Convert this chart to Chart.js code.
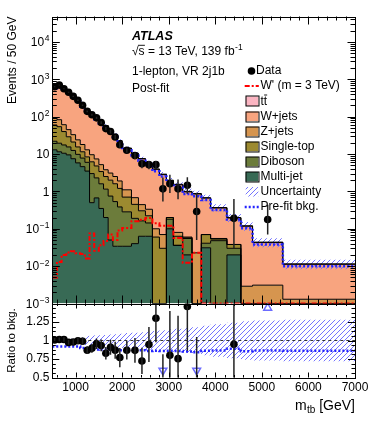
<!DOCTYPE html>
<html lang="en">
<head>
<meta charset="utf-8">
<title>m_tb post-fit, 1-lepton VR 2j1b</title>
<script src="https://cdn.jsdelivr.net/npm/chart.js@4.4.1/dist/chart.umd.min.js"></script>
<style>
  html, body { margin: 0; padding: 0; background: #ffffff; }
  #plot { position: relative; width: 374px; height: 421px; background: #ffffff; }
  #plot canvas { position: absolute; left: 0; top: 0; }
</style>
</head>
<body>
<div id="plot">
  <canvas id="mainChart" width="374" height="421"></canvas>
  <canvas id="ratioChart" width="374" height="421"></canvas>
</div>
<script>
// m_tb binning [GeV], variable width; contents are events / 50 GeV
const binEdges = [500, 600, 700, 800, 900, 1000, 1100, 1200, 1300, 1400, 1500, 1600, 1700, 1800, 1900, 2000,
  2200, 2350, 2500, 2650, 2800, 2950, 3100, 3300, 3500, 3700, 3900, 4250, 4550, 4800, 5450, 7000];

// post-fit background components (bottom of stack first)
const multijet = [13, 11.5, 10.5, 9.5, 7.5, 5.8, 4.6, 3.5, 0.5, 0.67, 0.35, 0.2, 0.05, 0.034, 0.034,
  0.034, 0.04, 0.063, 0.063, 0, 0, 0.1, 0.036, 0.02, 0, 0.031, 0, 0.02, 0, 0, 0];
const diboson = [9, 8, 7, 6, 5, 4, 3.2, 2.5, 2.5, 1.63, 1.25, 0.95, 0.7, 0.5, 0.35,
  0.25, 0.15, 0.1, 0.08, 0, 0, 0.08, 0, 0.035, 0, 0.01, 0.048, 0.01, 0, 0, 0];
const singleTop = [38, 34.5, 22.5, 13.5, 8.5, 5.7, 3.7, 2.4, 3.2, 2.5, 1.8, 1.35, 1.25, 1.07, 0.82,
  0.42, 0.26, 0.14, 0.08, 0.06, 0.03, 0.02, 0.027, 0.002, 0, 0.029, 0.005, 0.008, 0, 0, 0];
const zjets = [32, 29, 21, 16, 12, 8.5, 6.5, 4.6, 3.4, 2.6, 1.8, 1.3, 1.1, 0.9, 0.7,
  0.4, 0.23, 0.14, 0.11, 0.04, 0.04, 0, 0.017, 0.003, 0.0227, 0, 0.002, 0, 0.0029, 0.0031, 0.0013];
const wjets = [515, 586, 474, 403, 313, 244, 181, 142, 113, 87, 67.6, 52.5, 39.6, 29.5, 20.4,
  12.95, 9.52, 6.96, 5.02, 3.8, 2.75, 1.74, 1.425, 0.91, 0.832, 0.59, 0.304, 0.156, 0.114, 0.0396, 0.0099];
const ttbar = [19, 21, 17, 14, 11, 8, 6, 5, 3.8, 2.9, 2.2, 1.7, 1.3, 1.0, 0.7,
  0.45, 0.3, 0.2, 0.15, 0.1, 0.08, 0.06, 0.045, 0.03, 0.025, 0.02, 0.011, 0.006, 0.0035, 0.0013, 0.0003];

const prefitBkg = [576, 635, 508, 425, 328, 254, 184.5, 141, 111, 85.4, 66, 51, 38.7, 29, 20,
  12.6, 9.1, 6.6, 4.73, 3.44, 2.49, 1.72, 1.33, 0.85, 0.74, 0.585, 0.32, 0.178, 0.103, 0.038, 0.0099];
const bkgRelUnc = [0.025, 0.025, 0.025, 0.025, 0.025, 0.03, 0.04, 0.06, 0.065, 0.07, 0.07, 0.075, 0.08, 0.085, 0.09,
  0.1, 0.105, 0.11, 0.12, 0.13, 0.14, 0.15, 0.16, 0.17, 0.18, 0.2, 0.22, 0.24, 0.26, 0.27, 0.28];

const dataValues = [630, 700, 560, 450, 350, 275, 203, 139, 113, 93, 70, 48, 40, 28.7, 17.7,
  12.6, 9.1, 5.5, 5.2, 5.2, 1.17, 1.6, 1.17, 1.46, 0.29, null, null, 0.19, null, 0.177, null];
const dataErrLo = [18, 19, 17, 15, 13, 12, 10, 8.3, 7.5, 6.8, 5.9, 4.9, 4.5, 3.8, 3.0,
  1.8, 1.75, 1.35, 1.3, 1.3, 0.63, 0.7, 0.55, 0.6, 0.24, null, null, 0.16, null, 0.107, null];
const dataErrHi = [18, 19, 17, 15, 13, 12, 10, 8.3, 7.5, 6.8, 5.9, 4.9, 4.5, 3.8, 3.0,
  1.8, 1.75, 1.35, 1.3, 1.3, 1.19, 1.2, 0.9, 0.95, 0.63, null, null, 0.44, null, 0.26, null];

const wprimeSignal = [0.005, 0.013, 0.02, 0.023, 0.025, 0.022, 0.021, 0.016, 0.075, 0.026, 0.036, 0.047, 0.07, 0.05, 0.09,
  0.105, 0.16, 0.175, 0.195, 0.14, 0.12, 0.12, 0.057, 0.0123, 0.0227, 0, 0, 0, 0, 0, 0];

const xMajorTicks = [1000, 2000, 3000, 4000, 5000, 6000, 7000];
const yDecadeTicks = [1e-3, 1e-2, 1e-1, 1, 10, 100, 1000, 10000];
const ratioTicks = [0.5, 0.75, 1, 1.25];

const xMin = 500, xMax = 7000;
const yMin = 1e-3, yMax = 4.8e4;
const ratioMin = 0.5, ratioMax = 1.5;

const FONT = '"Liberation Sans", Arial, Helvetica, sans-serif';
const frame = { left: 52.3, right: 355, top: 16.5, split: 303.5, bottom: 377.5 };

const layers = [
  { label: 'Multi-jet', values: multijet, color: '#386a55' },
  { label: 'Diboson', values: diboson, color: '#6c7c3b' },
  { label: 'Single-top', values: singleTop, color: '#9c8a30' },
  { label: 'Z+jets', values: zjets, color: '#d6954f' },
  { label: 'W+jets', values: wjets, color: '#f8a47f' },
  { label: 'ttbar', values: ttbar, color: '#fbb5c2' },
];

const nBins = binEdges.length - 1;
const binCenters = binEdges.slice(0, -1).map((e, i) => (e + binEdges[i + 1]) / 2);

let running = new Array(nBins).fill(0);
const cumulative = layers.map(l => {
  running = running.map((r, i) => r + l.values[i]);
  return running.slice();
});
const totalBkg = running;

function stepData(values, floor) {
  const pts = values.map((v, i) => ({ x: binEdges[i], y: Math.max(v, floor) }));
  pts.push({ x: binEdges[nBins], y: Math.max(values[nBins - 1], floor) });
  return pts;
}

function hatchPattern(color) {
  const tile = document.createElement('canvas');
  tile.width = 5; tile.height = 5;
  const g = tile.getContext('2d');
  g.strokeStyle = color;
  g.lineWidth = 1;
  g.beginPath();
  g.moveTo(-1, 6); g.lineTo(6, -1);
  g.moveTo(-1, 1); g.lineTo(1, -1);
  g.moveTo(4, 6); g.lineTo(6, 4);
  g.stroke();
  return g.createPattern(tile, 'repeat');
}
const hatchFill = hatchPattern('#7474ff');
const BLUE = '#2424ff';

// data points carry their errors
const dataPoints = [];
dataValues.forEach((v, i) => {
  if (v !== null) dataPoints.push({ x: binCenters[i], y: v, lo: dataErrLo[i], hi: dataErrHi[i] });
});

function drawErrorBars(chart, points) {
  const { ctx, chartArea: a, scales: { x, y } } = chart;
  ctx.save();
  ctx.beginPath();
  ctx.rect(a.left, a.top, a.right - a.left, a.bottom - a.top);
  ctx.clip();
  ctx.strokeStyle = '#222';
  ctx.lineWidth = 1.5;
  ctx.beginPath();
  points.forEach(p => {
    const px = x.getPixelForValue(p.x);
    const lowV = p.y - p.lo;
    const top = y.getPixelForValue(p.y + p.hi);
    const bot = lowV > 0 ? y.getPixelForValue(lowV) : a.bottom + 50;
    ctx.moveTo(px, top);
    ctx.lineTo(px, bot);
  });
  ctx.stroke();
  ctx.restore();
}

function crisp(v) { return Math.round(v) + 0.5; }

function drawXTicks(ctx, a, x, majorLen, minorLen) {
  ctx.beginPath();
  for (let v = xMin + 100; v < xMax; v += 100) {
    if (v % 200 !== 0) continue;
    const major = v % 1000 === 0;
    const len = major ? majorLen : minorLen;
    const px = crisp(x.getPixelForValue(v));
    ctx.moveTo(px, a.bottom); ctx.lineTo(px, a.bottom - len);
    ctx.moveTo(px, a.top); ctx.lineTo(px, a.top + len);
  }
  ctx.stroke();
}

function drawFrame(ctx, a) {
  ctx.strokeRect(crisp(a.left), crisp(a.top), Math.round(a.right - a.left), Math.round(a.bottom - a.top));
}

// ---------- main panel ----------
const mainDecor = {
  id: 'mainDecor',
  afterDatasetsDraw(chart) {
    drawErrorBars(chart, dataPoints);
  },
  afterDraw(chart) {
    const { ctx, chartArea: a, scales: { x, y } } = chart;
    ctx.save();
    ctx.strokeStyle = '#000';
    ctx.lineWidth = 1;
    drawXTicks(ctx, a, x, 8, 4);
    ctx.beginPath();
    for (let n = -3; n <= 4; n++) {
      for (let k = 1; k <= 9; k++) {
        const v = k * Math.pow(10, n);
        if (v > yMax) break;
        const len = k === 1 ? 7.5 : 4.5;
        const py = crisp(y.getPixelForValue(v));
        ctx.moveTo(a.left, py); ctx.lineTo(a.left + len, py);
        ctx.moveTo(a.right, py); ctx.lineTo(a.right - len, py);
      }
    }
    ctx.stroke();
    drawFrame(ctx, a);

    // y tick labels with exponents
    ctx.fillStyle = '#000';
    ctx.textBaseline = 'alphabetic';
    ctx.textAlign = 'left';
    yDecadeTicks.forEach(v => {
      const py = y.getPixelForValue(v);
      const exp = Math.round(Math.log10(v));
      const base = exp === 0 ? '1' : '10';
      const sup = (exp === 0 || exp === 1) ? '' : String(exp).replace('-', '\u2212');
      ctx.font = `12px ${FONT}`;
      const wb = ctx.measureText(base).width;
      ctx.font = `8.5px ${FONT}`;
      const ws = sup ? ctx.measureText(sup).width + 0.6 : 0;
      const xr = a.left - 2.8;
      ctx.font = `12px ${FONT}`;
      ctx.fillText(base, xr - ws - wb, py + 4.3);
      if (sup) {
        ctx.font = `8.5px ${FONT}`;
        ctx.fillText(sup, xr - ws + 0.6, py - 0.6);
      }
    });

    // y title
    ctx.save();
    ctx.translate(16, a.top);
    ctx.rotate(-Math.PI / 2);
    ctx.font = `12px ${FONT}`;
    ctx.textAlign = 'right';
    ctx.fillText('Events / 50 GeV', 0, 0);
    ctx.restore();

    // ATLAS block
    const tx = 132;
    ctx.textAlign = 'left';
    ctx.font = `bold italic 12.5px ${FONT}`;
    ctx.fillText('ATLAS', tx, 40);
    ctx.font = `12px ${FONT}`;
    const line2 = '\u221As = 13 TeV, 139 fb';
    ctx.fillText(line2, tx, 55);
    const wRad = ctx.measureText('\u221A').width;
    const wRadS = ctx.measureText('\u221As').width;
    ctx.beginPath();
    ctx.lineWidth = 0.9;
    ctx.moveTo(tx + wRad - 0.6, 45.3);
    ctx.lineTo(tx + wRadS + 0.3, 45.3);
    ctx.stroke();
    const w2 = ctx.measureText(line2).width;
    ctx.font = `8.5px ${FONT}`;
    ctx.fillText('-1', tx + w2 + 0.5, 49.5);
    ctx.font = `12px ${FONT}`;
    ctx.fillText('1-lepton, VR 2j1b', tx, 74.5);
    ctx.fillText('Post-fit', tx, 91.5);

    // legend
    const lx = 245.7, lw = 12.6, textX = 260.5;
    const rows = [
      { label: 'Data', kind: 'dot' },
      { label: "W' (m = 3 TeV)", kind: 'signal' },
      { label: 'tt', kind: 'box', color: layers[5].color, bar: true },
      { label: 'W+jets', kind: 'box', color: layers[4].color },
      { label: 'Z+jets', kind: 'box', color: layers[3].color },
      { label: 'Single-top', kind: 'box', color: layers[2].color },
      { label: 'Diboson', kind: 'box', color: layers[1].color },
      { label: 'Multi-jet', kind: 'box', color: layers[0].color },
      { label: 'Uncertainty', kind: 'hatch' },
      { label: 'Pre-fit bkg.', kind: 'prefit' },
    ];
    rows.forEach((r, i) => {
      const cy = 71 + i * 15.1;
      ctx.save();
      if (r.kind === 'dot') {
        ctx.fillStyle = '#000';
        ctx.beginPath();
        ctx.arc(lx + lw / 2 - 0.5, cy, 3.8, 0, Math.PI * 2);
        ctx.fill();
      } else if (r.kind === 'signal') {
        ctx.strokeStyle = '#ff0000';
        ctx.lineWidth = 2;
        ctx.setLineDash([5, 2, 2, 2]);
        ctx.beginPath(); ctx.moveTo(lx - 1, cy); ctx.lineTo(lx + lw + 0.5, cy); ctx.stroke();
      } else if (r.kind === 'box') {
        ctx.fillStyle = r.color;
        ctx.fillRect(lx, cy - 4.75, lw, 9.5);
        ctx.strokeStyle = '#000';
        ctx.lineWidth = 1;
        ctx.strokeRect(crisp(lx) - 0.5, crisp(cy - 4.75) - 0.5, Math.round(lw), 10);
      } else if (r.kind === 'hatch') {
        ctx.fillStyle = hatchFill;
        ctx.fillRect(lx, cy - 4.75, lw, 9.5);
      } else if (r.kind === 'prefit') {
        ctx.strokeStyle = BLUE;
        ctx.lineWidth = 2.5;
        ctx.setLineDash([2, 2]);
        ctx.beginPath(); ctx.moveTo(lx - 1, cy); ctx.lineTo(lx + lw + 0.5, cy); ctx.stroke();
      }
      ctx.restore();
      ctx.fillStyle = '#000';
      ctx.font = `12px ${FONT}`;
      ctx.textBaseline = 'middle';
      const tX = r.kind === 'dot' ? 256 : textX;
      ctx.fillText(r.label, tX, cy);
      if (r.bar) {
        const wt = ctx.measureText('t').width;
        ctx.beginPath();
        ctx.lineWidth = 0.9;
        ctx.moveTo(tX + wt + 0.3, cy - 6.2);
        ctx.lineTo(tX + 2 * wt, cy - 6.2);
        ctx.stroke();
      }
    });
    ctx.restore();
  }
};

const stackSets = layers.map((l, k) => ({
  label: l.label,
  data: stepData(cumulative[k], yMin),
  stepped: 'before',
  fill: k === 0 ? 'start' : '-1',
  backgroundColor: l.color,
  borderColor: '#000',
  borderWidth: 1,
  pointRadius: 0,
  order: 20 - k,
}));

new Chart(document.getElementById('mainChart'), {
  type: 'line',
  data: {
    datasets: [
      ...stackSets,
      {
        label: 'uncLo',
        data: stepData(totalBkg.map((b, i) => b * (1 - bkgRelUnc[i])), yMin),
        stepped: 'before', fill: false, borderWidth: 0, borderColor: 'rgba(0,0,0,0)',
        pointRadius: 0, order: 12,
      },
      {
        label: 'Uncertainty',
        data: stepData(totalBkg.map((b, i) => b * (1 + bkgRelUnc[i])), yMin),
        stepped: 'before', fill: '-1', backgroundColor: hatchFill, borderWidth: 0,
        borderColor: 'rgba(0,0,0,0)', pointRadius: 0, order: 11,
      },
      {
        label: 'Pre-fit bkg.',
        data: stepData(prefitBkg, yMin),
        stepped: 'before', fill: false, borderColor: BLUE, borderWidth: 2.5,
        borderDash: [2, 2], pointRadius: 0, order: 5,
      },
      {
        label: "W' (m = 3 TeV)",
        data: stepData(wprimeSignal, yMin),
        stepped: 'before', fill: false, borderColor: '#ff0000', borderWidth: 2,
        borderDash: [5, 2, 2, 2], pointRadius: 0, order: 4,
      },
      {
        label: 'Data',
        data: dataPoints,
        showLine: false, pointRadius: 3.8, pointBackgroundColor: '#000',
        pointBorderWidth: 0, order: 0,
      },
    ],
  },
  options: {
    responsive: false,
    animation: false,
    devicePixelRatio: 1,
    events: [],
    layout: { padding: { left: frame.left, right: 374 - frame.right, top: frame.top, bottom: 421 - frame.split } },
    scales: {
      x: { type: 'linear', min: xMin, max: xMax, display: false },
      y: { type: 'logarithmic', min: yMin, max: yMax, display: false },
    },
    plugins: {
      legend: { display: false },
      tooltip: { enabled: false },
      filler: { drawTime: 'beforeDatasetsDraw' },
    },
  },
  plugins: [mainDecor],
});

// ---------- ratio panel ----------
const ratioErrPoints = [], ratioDots = [], ratioDown = [], ratioUp = [];
dataValues.forEach((v, i) => {
  if (v === null) return;
  const b = totalBkg[i];
  const p = { x: binCenters[i], y: v / b, lo: dataErrLo[i] / b, hi: dataErrHi[i] / b };
  ratioErrPoints.push(p);
  if (p.y < ratioMin) ratioDown.push({ x: p.x, y: ratioMin + 0.095 * (ratioMax - ratioMin) });
  else if (p.y > ratioMax) ratioUp.push({ x: p.x, y: ratioMax - 0.06 * (ratioMax - ratioMin) });
  else ratioDots.push(p);
});

const ratioDecor = {
  id: 'ratioDecor',
  afterDatasetsDraw(chart) {
    drawErrorBars(chart, ratioErrPoints);
  },
  afterDraw(chart) {
    const { ctx, chartArea: a, scales: { x, y } } = chart;
    ctx.save();
    ctx.strokeStyle = '#000';
    ctx.lineWidth = 1;
    drawXTicks(ctx, a, x, 5, 2.5);
    ctx.beginPath();
    for (let i = 0; i <= 16; i++) {
      const v = ratioMin + i * 0.0625;
      const len = i % 4 === 0 ? 7 : 3.5;
      const py = crisp(y.getPixelForValue(v));
      ctx.moveTo(a.left, py); ctx.lineTo(a.left + len, py);
      ctx.moveTo(a.right, py); ctx.lineTo(a.right - len, py);
    }
    ctx.stroke();
    drawFrame(ctx, a);

    ctx.fillStyle = '#000';
    // y title
    ctx.save();
    ctx.translate(14.5, (a.top + a.bottom) / 2);
    ctx.rotate(-Math.PI / 2);
    ctx.font = `11.5px ${FONT}`;
    ctx.textAlign = 'center';
    ctx.textBaseline = 'alphabetic';
    ctx.fillText('Ratio to bkg.', 0, 0);
    ctx.restore();

    // x title: m_tb [GeV]
    ctx.textBaseline = 'alphabetic';
    ctx.textAlign = 'left';
    ctx.font = `14px ${FONT}`;
    const wUnit = ctx.measureText('[GeV]').width;
    const wSp = ctx.measureText(' ').width;
    const wM = ctx.measureText('m').width;
    ctx.font = `10px ${FONT}`;
    const wSub = ctx.measureText('tb').width;
    const xUnit = a.right - wUnit;
    const xSub = xUnit - wSp - wSub;
    const xM = xSub - wM - 0.3;
    ctx.fillText('tb', xSub, 412.5);
    ctx.font = `14px ${FONT}`;
    ctx.fillText('m', xM, 409.5);
    ctx.fillText('[GeV]', xUnit, 409.5);
    ctx.restore();
  }
};

new Chart(document.getElementById('ratioChart'), {
  type: 'line',
  data: {
    datasets: [
      {
        label: 'bandLo',
        data: stepData(bkgRelUnc.map(u => 1 - u), 0),
        stepped: 'before', fill: false, borderWidth: 0, borderColor: 'rgba(0,0,0,0)',
        pointRadius: 0, order: 6,
      },
      {
        label: 'bandHi',
        data: stepData(bkgRelUnc.map(u => 1 + u), 0),
        stepped: 'before', fill: '-1', backgroundColor: hatchFill, borderWidth: 0,
        borderColor: 'rgba(0,0,0,0)', pointRadius: 0, order: 5,
      },
      {
        label: 'prefitRatio',
        data: stepData(prefitBkg.map((p, i) => p / totalBkg[i]), 0),
        stepped: 'before', fill: false, borderColor: BLUE, borderWidth: 2.5,
        borderDash: [2, 2], pointRadius: 0, order: 4,
      },
      {
        label: 'unity',
        data: [{ x: xMin, y: 1 }, { x: xMax, y: 1 }],
        fill: false, borderColor: '#333', borderWidth: 1, borderDash: [3, 3],
        pointRadius: 0, order: 3,
      },
      {
        label: 'ratio',
        data: ratioDots,
        showLine: false, pointRadius: 3.8, pointBackgroundColor: '#000',
        pointBorderWidth: 0, order: 1, clip: 0,
      },
      {
        label: 'below',
        data: ratioDown,
        showLine: false, pointStyle: 'triangle', pointRotation: 180, pointRadius: 4.5,
        pointBackgroundColor: 'rgba(255,255,255,0)', pointBorderColor: '#6b6bff',
        pointBorderWidth: 1.5, order: 0,
      },
      {
        label: 'above',
        data: ratioUp,
        showLine: false, pointStyle: 'triangle', pointRadius: 4.5,
        pointBackgroundColor: 'rgba(255,255,255,0)', pointBorderColor: '#6b6bff',
        pointBorderWidth: 1.5, order: 0,
      },
    ],
  },
  options: {
    responsive: false,
    animation: false,
    devicePixelRatio: 1,
    events: [],
    layout: { padding: { left: 0, right: 374 - frame.right, top: frame.split, bottom: 0 } },
    scales: {
      x: {
        type: 'linear', min: xMin, max: xMax,
        afterFit: s => { s.height = 421 - frame.bottom; },
        afterBuildTicks: s => { s.ticks = xMajorTicks.map(v => ({ value: v })); },
        grid: { display: false, drawTicks: false },
        border: { display: false },
        ticks: {
          font: { family: FONT, size: 12 }, color: '#000', padding: 3,
          maxRotation: 0, autoSkip: false, callback: v => String(v),
        },
      },
      y: {
        type: 'linear', min: ratioMin, max: ratioMax,
        afterFit: s => { s.width = frame.left; },
        afterBuildTicks: s => { s.ticks = ratioTicks.map(v => ({ value: v })); },
        grid: { display: false, drawTicks: false },
        border: { display: false },
        ticks: {
          font: { family: FONT, size: 12 }, color: '#000', padding: 2.8,
          callback: v => String(v),
        },
      },
    },
    plugins: {
      legend: { display: false },
      tooltip: { enabled: false },
      filler: { drawTime: 'beforeDatasetsDraw' },
    },
  },
  plugins: [ratioDecor],
});
</script>
</body>
</html>
